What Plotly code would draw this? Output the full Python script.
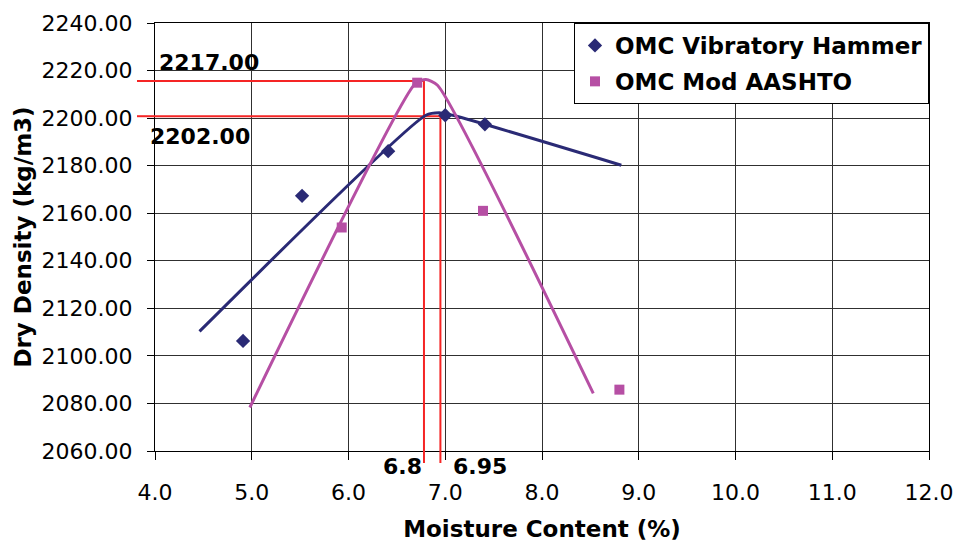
import plotly.graph_objects as go

# ---- data ----
x_tick_vals = [4, 5, 6, 7, 8, 9, 10, 11, 12]
y_tick_vals = [2060, 2080, 2100, 2120, 2140, 2160, 2180, 2200, 2220, 2240]

vh_x = [4.91, 5.52, 6.41, 7.00, 7.41]
vh_y = [2106.3, 2167.3, 2186.1, 2201.2, 2197.4]

aashto_x = [5.93, 6.71, 7.39, 8.80]
aashto_y = [2154.0, 2214.9, 2161.0, 2085.8]

vh_fit_x = [4.46, 6.80, 6.95, 7.10, 8.82]
vh_fit_y = [2110.3, 2201.2, 2202.2, 2201.0, 2180.2]

aashto_fit_x = [4.98, 6.69, 6.80, 6.92, 8.53]
aashto_fit_y = [2078.3, 2214.5, 2216.2, 2213.8, 2084.2]

guide_x = [6.78, 6.95]          # OMC guide lines
guide_y = [2215.6, 2200.8]      # MDD guide lines
omc_labels = ["6.8", "6.95"]
mdd_labels = ["2217.00", "2202.00"]
mdd_label_pos_x = [4.56, 4.47]
mdd_label_pos_y = [2223.5, 2192.4]
omc_label_pos_x = [6.56, 7.36]

series_names = ["OMC Vibratory Hammer", "OMC Mod AASHTO"]

# ---- styles ----
NAVY = "#2A2A75"
MAGENTA = "#B64FA4"
RED = "#F52525"
GRID = "#303030"
FONT = "DejaVu Sans"

X_RANGE = [4, 12]
Y_RANGE = [2060, 2240]
ML, MR, MT, MB = 155, 27, 23, 94
W, H = 956, 545
PW, PH = W - ML - MR, H - MT - MB

fig = go.Figure()

fig.add_trace(go.Scatter(x=vh_fit_x, y=vh_fit_y, mode="lines",
                         line=dict(color=NAVY, width=3, shape="spline", smoothing=0.6),
                         showlegend=False, hoverinfo="skip"))
fig.add_trace(go.Scatter(x=aashto_fit_x, y=aashto_fit_y, mode="lines",
                         line=dict(color=MAGENTA, width=3, shape="spline", smoothing=0.6),
                         showlegend=False, hoverinfo="skip"))
fig.add_trace(go.Scatter(x=vh_x, y=vh_y, mode="markers", name=series_names[0],
                         legendgroup="a",
                         marker=dict(symbol="diamond", size=11, color=NAVY)))
fig.add_trace(go.Scatter(x=aashto_x, y=aashto_y, mode="markers", name=series_names[1],
                         legendgroup="b",
                         marker=dict(symbol="square", size=10, color=MAGENTA)))

shapes = []
stub_left = 18 / PW
stub_down = 12 / PH
for gx, gy in zip(guide_x, guide_y):
    shapes.append(dict(type="line", xref="x", yref="y", x0=X_RANGE[0], x1=gx, y0=gy, y1=gy,
                       line=dict(color=RED, width=2), layer="between"))
    shapes.append(dict(type="line", xref="x", yref="y", x0=gx, x1=gx, y0=Y_RANGE[0], y1=gy,
                       line=dict(color=RED, width=2), layer="between"))
    shapes.append(dict(type="line", xref="paper", yref="y", x0=-stub_left, x1=0, y0=gy, y1=gy,
                       line=dict(color=RED, width=2), layer="above"))
    shapes.append(dict(type="line", xref="x", yref="paper", x0=gx, x1=gx, y0=0, y1=-stub_down,
                       line=dict(color=RED, width=2), layer="above"))

annotations = []
for txt, ax_, ay_ in zip(mdd_labels, mdd_label_pos_x, mdd_label_pos_y):
    annotations.append(dict(x=ax_, y=ay_, xref="x", yref="y", text="<b>%s</b>" % txt,
                            showarrow=False, font=dict(family=FONT, size=22, color="black")))
for txt, ax_ in zip(omc_labels, omc_label_pos_x):
    annotations.append(dict(x=ax_, y=-15 / PH, xref="x", yref="paper", text="<b>%s</b>" % txt,
                            yanchor="middle", xanchor="center",
                            showarrow=False, font=dict(family=FONT, size=22, color="black")))

fig.update_layout(
    width=W, height=H,
    margin=dict(l=ML, r=MR, t=MT, b=MB, autoexpand=False),
    paper_bgcolor="white", plot_bgcolor="white",
    font=dict(family=FONT, color="black"),
    shapes=shapes, annotations=annotations,
    legend=dict(x=1, y=1, xanchor="right", yanchor="top",
                bgcolor="white", bordercolor="black", borderwidth=1,
                font=dict(family=FONT, size=23, color="black", weight="bold"),
                tracegroupgap=3),
)

fig.update_xaxes(range=X_RANGE, tickvals=x_tick_vals, tickformat=".1f",
                 automargin=False,
                 showgrid=True, gridcolor=GRID, gridwidth=1,
                 showline=True, linecolor="black", linewidth=1, mirror=True,
                 ticks="outside", ticklen=8, tickcolor="black",
                 ticklabelstandoff=14,
                 tickfont=dict(family=FONT, size=22, color="black"),
                 zeroline=False,
                 title=dict(text="<b>Moisture Content (%)</b>", standoff=16,
                            font=dict(family=FONT, size=23, color="black")))
fig.update_yaxes(range=Y_RANGE, tickvals=y_tick_vals, tickformat=".2f",
                 automargin=False,
                 showgrid=True, gridcolor=GRID, gridwidth=1,
                 showline=True, linecolor="black", linewidth=1, mirror=True,
                 ticks="outside", ticklen=7, tickcolor="black",
                 ticklabelstandoff=10,
                 tickfont=dict(family=FONT, size=22, color="black"),
                 zeroline=False,
                 title=dict(text="<b>Dry Density (kg/m3)</b>", standoff=3,
                            font=dict(family=FONT, size=23, color="black")))

fig.write_html("out.html", config={"displayModeBar": False},
               post_script="document.body.style.margin='0';")
